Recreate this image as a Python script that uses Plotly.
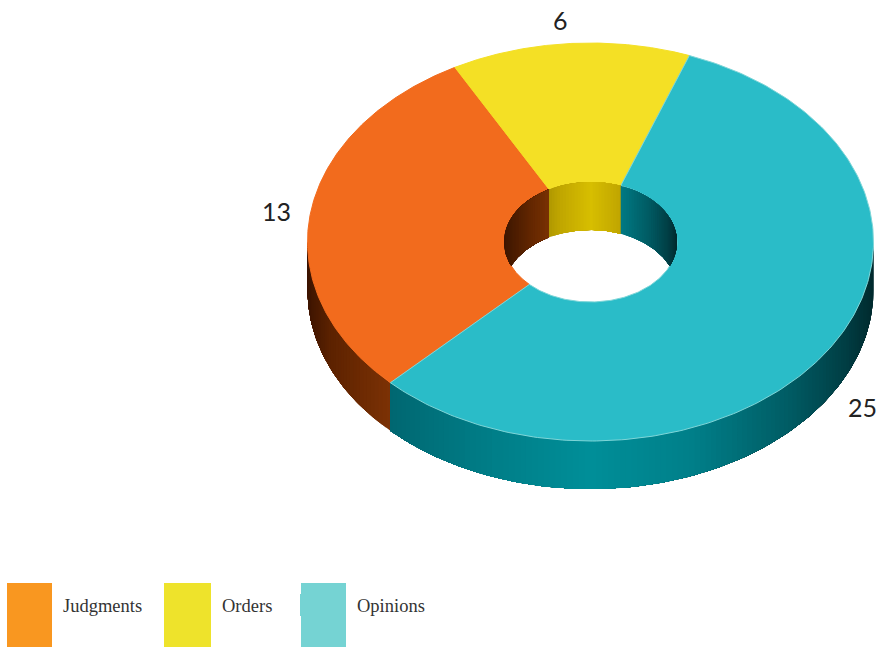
import numpy as np
import plotly.graph_objects as go

# Chart values
categories = ["Judgments", "Orders", "Opinions"]
values = [13, 6, 25]
top_colors = ["#F26B1D", "#F4E025", "#2ABCC8"]
legend_colors = ["#F99720", "#EEE32B", "#75D3D3"]

# Ring geometry in page pixels
CX, CY = 590.5, 242.0
RX, RY = 283.0, 199.0
HOLE_RX, HOLE_RY = 86.5, 60.0
DEPTH = 48.0
START_DEG = 225.0

# Wall shading: colour stops against the horizontal position (-1 left, +1 right)
SHADE_U = [-1.0, -0.92, -0.7, -0.35, 0.0, 0.35, 0.7, 0.9, 1.0]
OUTER_SHADE = {
    0: [(60, 20, 0), (92, 34, 0), (125, 50, 5), (135, 56, 5), (140, 60, 6), (140, 60, 6), (120, 50, 4), (90, 30, 0), (50, 16, 0)],
    1: [(120, 100, 0), (130, 110, 0), (150, 130, 0), (190, 165, 0), (215, 190, 0), (190, 165, 0), (150, 130, 0), (120, 100, 0), (90, 80, 0)],
    2: [(0, 60, 66), (0, 80, 88), (0, 104, 114), (0, 126, 136), (0, 142, 152), (0, 128, 138), (0, 92, 100), (0, 62, 68), (0, 42, 46)],
}
INNER_SHADE = {
    0: [(62, 22, 0), (70, 26, 0), (98, 38, 0), (135, 56, 5), (140, 60, 6), (140, 60, 6), (120, 50, 4), (90, 30, 0), (50, 16, 0)],
    1: [(120, 100, 0), (130, 110, 0), (150, 130, 0), (192, 166, 0), (215, 190, 0), (192, 165, 0), (150, 130, 0), (120, 100, 0), (90, 80, 0)],
    2: [(0, 120, 130), (0, 120, 130), (0, 120, 130), (0, 125, 135), (0, 125, 135), (0, 122, 132), (0, 88, 96), (0, 62, 68), (0, 42, 46)],
}


def slice_bounds():
    """Clockwise start and end angle of each slice, in degrees from 12 o'clock."""
    sweep = 360.0 * np.array(values) / sum(values)
    ends = START_DEG + np.cumsum(sweep)
    return list(zip(ends - sweep, ends))


def shade(stops, u):
    rgb = [np.interp(u, SHADE_U, [s[c] for s in stops]) for c in range(3)]
    return "rgb({:.0f},{:.0f},{:.0f})".format(*rgb)


def ell(theta_deg, rx, ry):
    t = np.radians(theta_deg)
    return CX + rx * np.sin(t), CY - ry * np.cos(t)


def visible_pieces(lo, hi):
    """Parts of every slice falling in the angular window lo..hi."""
    pieces = []
    for i, (a, b) in enumerate(slice_bounds()):
        for shift in (-360, 0, 360):
            s, e = max(a + shift, lo), min(b + shift, hi)
            if e > s:
                pieces.append((i, s, e))
    return pieces


def add_poly(fig, x, y, fill, edge=None, width=0.0):
    fig.add_trace(go.Scatter(
        x=x, y=y, mode="lines", fill="toself", fillcolor=fill,
        line=dict(color=edge or fill, width=width),
        hoverinfo="skip", showlegend=False,
    ))


def add_wall(fig, piece, rx, ry, shades, step, clip_to_rim):
    """Paint a wall piece as overlapping bands so neighbouring bands leave no seams."""
    i, s, e = piece
    starts = np.arange(s, e, step)
    for t0 in starts:
        t = np.linspace(t0, e, max(2, int((e - t0) / 1.0) + 2))
        top_x, top_y = ell(t, rx, ry)
        low_y = top_y + DEPTH
        if clip_to_rim:
            low_y = np.minimum(low_y, 2 * CY - top_y)
        u = float(np.sin(np.radians(t0 + step / 2)))
        add_poly(fig, np.r_[top_x, top_x[::-1], top_x[0]], np.r_[top_y, low_y[::-1], top_y[0]],
                 shade(shades[i], u))


fig = go.Figure()

# Outer wall along the front half
for piece in visible_pieces(90, 270):
    add_wall(fig, piece, RX, RY, OUTER_SHADE, 1.2, False)

# Top face of the ring
for i, (a, b) in enumerate(slice_bounds()):
    t = np.linspace(a, b, 240)
    ox, oy = ell(t, RX, RY)
    ix, iy = ell(t[::-1], HOLE_RX, HOLE_RY)
    edge = "#7FD6D8" if categories[i] == "Opinions" else top_colors[i]
    add_poly(fig, np.r_[ox, ix, ox[0]], np.r_[oy, iy, oy[0]], top_colors[i], edge=edge, width=1.0)

# Inner wall seen through the hole, cut off by the near rim
for piece in visible_pieces(-90, 90):
    add_wall(fig, piece, HOLE_RX, HOLE_RY, INNER_SHADE, 2.0, True)

# Value labels beside the ring
label_font = dict(family="Lato, Open Sans, sans-serif", size=25, color="#222222")
label_pos = {"Judgments": (276, 211), "Orders": (560, 20), "Opinions": (862, 407)}
annotations = [
    dict(x=label_pos[c][0], y=label_pos[c][1], text=str(v), showarrow=False,
         xref="x", yref="y", font=label_font, xanchor="center", yanchor="middle")
    for c, v in zip(categories, values)
]

# Legend swatches and names along the bottom
swatch_x = [(7, 52), (164, 211), (301, 346)]
text_x = [61, 220, 355]
shapes = []
for (x0, x1), col, tx, name in zip(swatch_x, legend_colors, text_x, categories):
    shapes.append(dict(type="rect", xref="x", yref="y", x0=x0, x1=x1, y0=583, y1=647,
                       fillcolor=col, line=dict(width=0), layer="below"))
    annotations.append(dict(x=tx, y=606, text=name, showarrow=False, xref="x", yref="y",
                            xanchor="left", yanchor="middle",
                            font=dict(family="Liberation Serif, serif", size=18.5, color="#333333")))
shapes.append(dict(type="rect", xref="x", yref="y", x0=300, x1=302, y0=594, y1=616,
                   fillcolor=legend_colors[2], line=dict(width=0), layer="below"))

fig.update_layout(
    width=880, height=647, autosize=False,
    margin=dict(l=0, r=0, t=0, b=0),
    paper_bgcolor="white", plot_bgcolor="white", showlegend=False,
    xaxis=dict(range=[0, 880], visible=False, fixedrange=True),
    yaxis=dict(range=[647, 0], visible=False, fixedrange=True),
    annotations=annotations, shapes=shapes,
)

fig.write_html("out.html", config=dict(displayModeBar=False))
